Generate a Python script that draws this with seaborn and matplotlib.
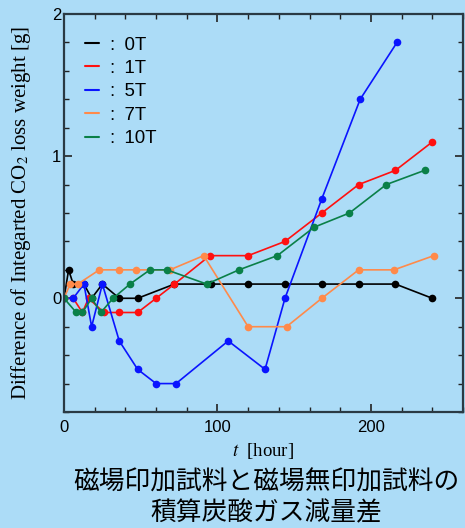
import numpy as np
import pandas as pd
import matplotlib
matplotlib.use("Agg")
import matplotlib.pyplot as plt
from matplotlib.lines import Line2D
from matplotlib.ticker import MultipleLocator
import seaborn as sns

# ---- data ----
t_0T = [0, 3, 6, 13, 18, 25, 36, 48, 72, 96, 120, 144, 168, 192, 216, 240]
v_0T = [0, 0.2, 0.1, 0.1, 0.0, 0.1, 0.0, 0.0, 0.1, 0.1, 0.1, 0.1, 0.1, 0.1, 0.1, 0.0]

t_1T = [0, 6, 12, 16, 26, 36, 48, 60, 72, 95, 120, 144, 168, 192, 216, 240]
v_1T = [0, 0.0, -0.1, 0.0, -0.1, -0.1, -0.1, 0.0, 0.1, 0.3, 0.3, 0.4, 0.6, 0.8, 0.9, 1.1]

t_5T = [0, 6, 13, 18, 25, 36, 48, 60, 73, 107, 131, 144, 168, 193, 217]
v_5T = [0, 0.0, 0.1, -0.2, 0.1, -0.3, -0.5, -0.6, -0.6, -0.3, -0.5, 0.0, 0.7, 1.4, 1.8]

t_7T = [0, 4, 9, 23, 36, 47, 69, 91, 120, 145, 168, 192, 215, 241]
v_7T = [0, 0.1, 0.1, 0.2, 0.2, 0.2, 0.2, 0.3, -0.2, -0.2, 0.0, 0.2, 0.2, 0.3]

t_10T = [0, 8, 12, 18, 24, 32, 43, 56, 67, 93, 114, 139, 163, 186, 210, 235]
v_10T = [0, -0.1, -0.1, 0.0, -0.1, 0.0, 0.1, 0.2, 0.2, 0.1, 0.2, 0.3, 0.5, 0.6, 0.8, 0.9]

series_names = ["0T", "1T", "5T", "7T", "10T"]
series_t = [t_0T, t_1T, t_5T, t_7T, t_10T]
series_v = [v_0T, v_1T, v_5T, v_7T, v_10T]
colors = ["#000000", "#ff1010", "#0a14ff", "#ff8a4a", "#0a8048"]

title_text = "磁場印加試料と磁場無印加試料の\n積算炭酸ガス減量差"
xlabel = r"$t$  [hour]"
ylabel = r"Difference of Integarted CO$_2$ loss weight [g]"

rows = []
for name, ts, vs in zip(series_names, series_t, series_v):
    for t, v in zip(ts, vs):
        rows.append({"t": t, "v": v, "series": name})
df = pd.DataFrame(rows)

bg = "#acdcf7"
sns.set_theme(style="ticks")
plt.rcParams["font.family"] = ["Liberation Sans", "DejaVu Sans"]
plt.rcParams["mathtext.fontset"] = "stix"
plt.rcParams["text.color"] = "black"

fig = plt.figure(figsize=(4.65, 5.28), dpi=100, facecolor=bg)
ax = fig.add_axes([64 / 465, 1 - 412 / 528, (463 - 64) / 465, (412 - 14) / 528])
ax.set_facecolor(bg)

sns.lineplot(data=df, x="t", y="v", hue="series", hue_order=series_names,
             palette=colors, sort=False, estimator=None, marker="o",
             markersize=5.5, markeredgewidth=0, linewidth=1.2, ax=ax, legend=False)

ax.set_xlim(0, 260)
ax.set_ylim(-0.8, 2)
ax.xaxis.set_major_locator(MultipleLocator(100))
ax.xaxis.set_minor_locator(MultipleLocator(20))
ax.yaxis.set_major_locator(MultipleLocator(1))
ax.yaxis.set_minor_locator(MultipleLocator(0.2))
ax.tick_params(which="both", direction="in", top=True, right=True, colors="#222222",
               labelsize=12, labelcolor="black")
ax.tick_params(which="major", length=6, width=1.2)
ax.tick_params(which="minor", length=3.5, width=1.0)
ax.tick_params(axis="y", pad=2)
ax.tick_params(axis="x", pad=6)
for s in ax.spines.values():
    s.set_color("#2a3a44")
    s.set_linewidth(1.6)

ax.set_xlabel(xlabel, family=["Liberation Serif"], fontsize=13.5, va="center", color="black")
ax.xaxis.set_label_coords(0.5, (412 - 451) / 398)
ax.set_ylabel(ylabel, family=["Liberation Serif"], fontsize=15, va="center", color="black")
ax.yaxis.set_label_coords((21 - 64) / 399, 0.5)

handles = [Line2D([0], [0], color=c, lw=1.5) for c in colors]
leg = ax.legend(handles, [":\u2002" + n for n in series_names], loc="upper left",
                bbox_to_anchor=(0.0, 0.997), frameon=False, fontsize=13.4,
                handlelength=0.75, handletextpad=0.55, labelspacing=0.34,
                borderaxespad=0.75, borderpad=0.4)
for txt in leg.get_texts():
    txt.set_color("black")

fig.text(266 / 465, 1 - 498 / 528, title_text, ha="center", va="center",
         family=["Noto Sans CJK JP"], fontsize=18.5, weight="normal",
         linespacing=1.2, color="black")

fig.savefig("out.png", dpi=100, facecolor=bg)
